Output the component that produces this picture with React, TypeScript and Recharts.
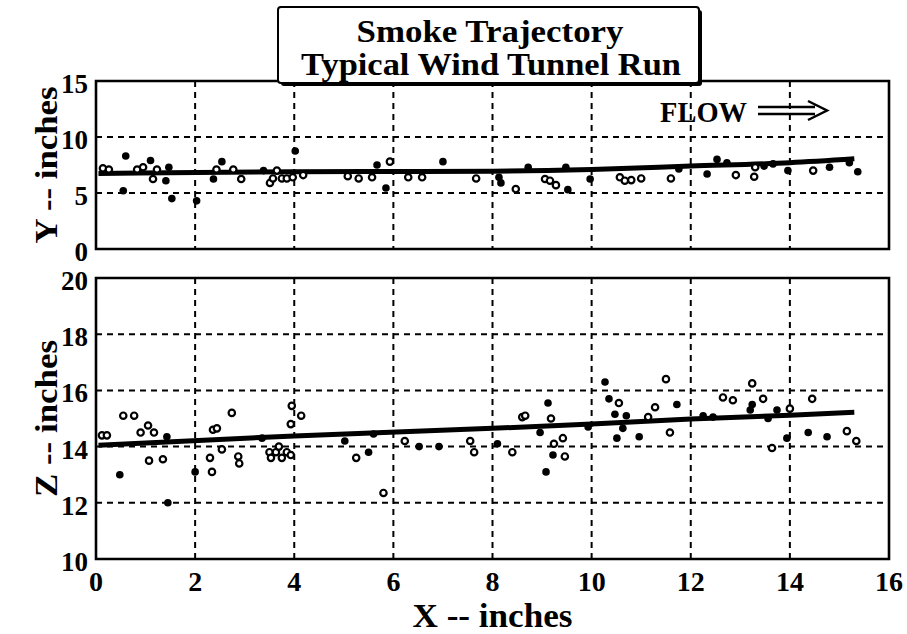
import React from 'react'
import {
  ComposedChart,
  Scatter,
  Line,
  XAxis,
  YAxis,
  CartesianGrid,
  ReferenceArea,
} from 'recharts'

// axes
const xTicks = [0, 2, 4, 6, 8, 10, 12, 14, 16]
const yTicks = [0, 5, 10, 15]
const zTicks = [10, 12, 14, 16, 18, 20]

// Y vs X -- solid dots / open circles
const yFilled = [
  { x: 0.6, y: 8.3 }, { x: 0.55, y: 5.2 }, { x: 1.1, y: 7.9 }, { x: 1.41, y: 6.1 },
  { x: 1.47, y: 7.3 }, { x: 1.53, y: 4.5 }, { x: 2.03, y: 4.3 }, { x: 2.37, y: 6.25 },
  { x: 2.54, y: 7.8 }, { x: 3.38, y: 7.0 }, { x: 4.02, y: 8.75 }, { x: 5.67, y: 7.5 },
  { x: 5.85, y: 5.45 }, { x: 7.0, y: 7.8 }, { x: 8.13, y: 6.4 }, { x: 8.17, y: 5.9 },
  { x: 8.72, y: 7.3 }, { x: 9.48, y: 7.3 }, { x: 9.52, y: 5.3 }, { x: 9.97, y: 6.25 },
  { x: 11.76, y: 7.15 }, { x: 12.33, y: 6.7 }, { x: 12.53, y: 8.0 }, { x: 12.73, y: 7.7 },
  { x: 13.48, y: 7.4 }, { x: 13.66, y: 7.6 }, { x: 13.96, y: 7.0 }, { x: 14.8, y: 7.3 },
  { x: 15.2, y: 7.7 }, { x: 15.37, y: 6.9 },
]
const yOpen = [
  { x: 0.14, y: 7.2 }, { x: 0.26, y: 7.1 }, { x: 0.83, y: 7.1 }, { x: 0.95, y: 7.3 },
  { x: 1.15, y: 6.25 }, { x: 1.23, y: 7.1 }, { x: 2.43, y: 7.1 }, { x: 2.77, y: 7.1 },
  { x: 2.93, y: 6.25 }, { x: 3.51, y: 5.9 }, { x: 3.57, y: 6.3 }, { x: 3.65, y: 7.0 },
  { x: 3.75, y: 6.3 }, { x: 3.85, y: 6.3 }, { x: 3.97, y: 6.4 }, { x: 4.18, y: 6.6 },
  { x: 5.08, y: 6.5 }, { x: 5.3, y: 6.3 }, { x: 5.57, y: 6.4 }, { x: 5.93, y: 7.8 },
  { x: 6.3, y: 6.4 }, { x: 6.58, y: 6.4 }, { x: 7.67, y: 6.3 }, { x: 8.47, y: 5.35 },
  { x: 9.06, y: 6.25 }, { x: 9.16, y: 6.1 }, { x: 9.28, y: 5.7 }, { x: 10.57, y: 6.4 },
  { x: 10.67, y: 6.1 }, { x: 10.8, y: 6.15 }, { x: 11.0, y: 6.3 }, { x: 11.6, y: 6.3 },
  { x: 12.91, y: 6.6 }, { x: 13.28, y: 6.45 }, { x: 13.3, y: 7.3 }, { x: 14.47, y: 7.0 },
]
const yFit = [
  { x: 0.05, y: 6.75 }, { x: 4, y: 6.9 }, { x: 8, y: 6.95 }, { x: 10, y: 7.1 },
  { x: 12, y: 7.4 }, { x: 14, y: 7.7 }, { x: 15.3, y: 8.05 },
]

// Z vs X
const zFilled = [
  { x: 0.48, z: 13.0 }, { x: 1.43, z: 14.35 }, { x: 1.45, z: 12.0 }, { x: 2.0, z: 13.1 },
  { x: 3.35, z: 14.3 }, { x: 5.02, z: 14.2 }, { x: 5.5, z: 13.8 }, { x: 5.6, z: 14.45 },
  { x: 6.52, z: 14.0 }, { x: 6.92, z: 14.0 }, { x: 8.1, z: 14.1 }, { x: 8.96, z: 14.5 },
  { x: 9.12, z: 15.55 }, { x: 9.22, z: 13.7 }, { x: 9.08, z: 13.1 }, { x: 9.93, z: 14.7 },
  { x: 10.27, z: 16.3 }, { x: 10.35, z: 15.7 }, { x: 10.47, z: 15.15 }, { x: 10.7, z: 15.1 },
  { x: 10.51, z: 14.3 }, { x: 10.63, z: 14.65 }, { x: 10.96, z: 14.35 }, { x: 11.72, z: 15.5 },
  { x: 12.25, z: 15.1 }, { x: 12.45, z: 15.05 }, { x: 13.24, z: 15.5 }, { x: 13.2, z: 15.3 },
  { x: 13.56, z: 15.0 }, { x: 13.74, z: 15.3 }, { x: 13.94, z: 14.3 }, { x: 14.37, z: 14.5 },
  { x: 14.75, z: 14.35 },
]
const zOpen = [
  { x: 0.12, z: 14.4 }, { x: 0.22, z: 14.4 }, { x: 0.55, z: 15.1 }, { x: 0.77, z: 15.1 },
  { x: 0.9, z: 14.5 }, { x: 1.05, z: 14.75 }, { x: 1.17, z: 14.5 }, { x: 1.07, z: 13.5 },
  { x: 1.35, z: 13.55 }, { x: 2.3, z: 13.6 }, { x: 2.34, z: 13.1 }, { x: 2.36, z: 14.6 },
  { x: 2.44, z: 14.65 }, { x: 2.54, z: 13.9 }, { x: 2.74, z: 15.2 }, { x: 2.87, z: 13.65 },
  { x: 2.89, z: 13.4 }, { x: 3.5, z: 13.8 }, { x: 3.53, z: 13.6 }, { x: 3.63, z: 13.8 },
  { x: 3.69, z: 14.0 }, { x: 3.75, z: 13.6 }, { x: 3.85, z: 13.8 }, { x: 3.93, z: 13.7 },
  { x: 3.95, z: 15.45 }, { x: 3.93, z: 14.8 }, { x: 4.14, z: 15.1 }, { x: 5.25, z: 13.6 },
  { x: 5.8, z: 12.35 }, { x: 6.23, z: 14.2 }, { x: 7.55, z: 14.2 }, { x: 7.63, z: 13.8 },
  { x: 8.4, z: 13.8 }, { x: 8.6, z: 15.05 }, { x: 8.66, z: 15.1 }, { x: 9.18, z: 15.0 },
  { x: 9.24, z: 14.1 }, { x: 9.46, z: 13.65 }, { x: 9.42, z: 14.3 }, { x: 10.55, z: 15.55 },
  { x: 11.14, z: 15.05 }, { x: 11.28, z: 15.4 }, { x: 11.5, z: 16.4 }, { x: 11.58, z: 14.5 },
  { x: 12.65, z: 15.75 }, { x: 12.85, z: 15.65 }, { x: 13.24, z: 16.25 }, { x: 13.46, z: 15.7 },
  { x: 13.64, z: 13.95 }, { x: 14.0, z: 15.35 }, { x: 14.45, z: 15.7 }, { x: 15.15, z: 14.55 },
  { x: 15.34, z: 14.2 },
]
const zFit = [
  { x: 0.05, z: 14.05 }, { x: 4, z: 14.38 }, { x: 8, z: 14.65 }, { x: 10, z: 14.8 },
  { x: 12, z: 14.98 }, { x: 14, z: 15.12 }, { x: 15.3, z: 15.22 },
]

const FONT = "'Liberation Serif', 'Times New Roman', serif"
const W = 907

const dot = (p: any) => <circle cx={p.cx} cy={p.cy} r={3.8} fill="#000" />
const ring = (p: any) => (
  <circle cx={p.cx} cy={p.cy} r={3.2} fill="#fff" stroke="#000" strokeWidth={2.2} />
)

function YTick(props: any) {
  const { x, y, payload } = props
  return (
    <text x={x} y={y + 12} textAnchor="end" fontFamily={FONT} fontSize={27} fontWeight="bold" fill="#000">
      {payload.value}
    </text>
  )
}

function XTick(props: any) {
  const { x, y, payload } = props
  return (
    <text x={x} y={y + 32} textAnchor="middle" fontFamily={FONT} fontSize={28} fontWeight="bold" fill="#000">
      {payload.value}
    </text>
  )
}

const NoTick = () => <g />

function sideLabel(text: string) {
  return (props: any) => {
    const vb = props.viewBox || {}
    const cy = vb.y + vb.height / 2
    const bx = 57
    return (
      <text
        x={bx}
        y={cy}
        transform={`rotate(-90, ${bx}, ${cy})`}
        textAnchor="middle"
        fontFamily={FONT}
        fontSize={32}
        fontWeight="bold"
        textLength={157}
        lengthAdjust="spacingAndGlyphs"
        fill="#000"
      >
        {text}
      </text>
    )
  }
}

function bottomLabel(props: any) {
  const vb = props.viewBox || {}
  return (
    <text
      x={vb.x + vb.width / 2}
      y={vb.y + vb.height - 7}
      textAnchor="middle"
      fontFamily={FONT}
      fontSize={33}
      fontWeight="bold"
      textLength={160}
      lengthAdjust="spacingAndGlyphs"
      fill="#000"
    >
      X -- inches
    </text>
  )
}

const grid = <CartesianGrid stroke="#000" strokeWidth={2} strokeDasharray="6 5" />

export default function App() {
  return (
    <div style={{ position: 'absolute', left: 0, top: 0, width: W, height: 634, background: '#fff' }}>
      <div style={{ position: 'absolute', left: 0, top: 0 }}>
        <ComposedChart width={W} height={272} margin={{ top: 81, right: 18, bottom: 23, left: 0 }}>
          {grid}
          <XAxis
            type="number"
            dataKey="x"
            domain={[0, 16]}
            ticks={xTicks}
            tick={<NoTick />}
            axisLine={false}
            tickLine={false}
            height={0}
          />
          <YAxis
            type="number"
            dataKey="y"
            domain={[0, 15]}
            ticks={yTicks}
            width={96}
            axisLine={false}
            tickLine={false}
            tickSize={0}
            tickMargin={8}
            tick={<YTick />}
            label={{ content: sideLabel('Y -- inches') }}
          />
          <ReferenceArea x1={0} x2={16} y1={0} y2={15} fill="none" stroke="#000" strokeWidth={2.6} />
          <Line data={yFit} dataKey="y" type="monotone" stroke="#000" strokeWidth={5} dot={false} isAnimationActive={false} />
          <Scatter data={yOpen} dataKey="y" shape={ring} isAnimationActive={false} />
          <Scatter data={yFilled} dataKey="y" shape={dot} isAnimationActive={false} />
        </ComposedChart>
      </div>
      <div style={{ position: 'absolute', left: 0, top: 262 }}>
        <ComposedChart width={W} height={372} margin={{ top: 16, right: 18, bottom: 0, left: 0 }}>
          {grid}
          <XAxis
            type="number"
            dataKey="x"
            domain={[0, 16]}
            ticks={xTicks}
            height={75}
            axisLine={false}
            tickLine={false}
            tickSize={0}
            tickMargin={0}
            tick={<XTick />}
            label={{ content: bottomLabel }}
          />
          <YAxis
            type="number"
            dataKey="z"
            domain={[10, 20]}
            ticks={zTicks}
            width={96}
            axisLine={false}
            tickLine={false}
            tickSize={0}
            tickMargin={8}
            tick={<YTick />}
            label={{ content: sideLabel('Z -- inches') }}
          />
          <ReferenceArea x1={0} x2={16} y1={10} y2={20} fill="none" stroke="#000" strokeWidth={2.6} />
          <Line data={zFit} dataKey="z" type="linear" stroke="#000" strokeWidth={5} dot={false} isAnimationActive={false} />
          <Scatter data={zOpen} dataKey="z" shape={ring} isAnimationActive={false} />
          <Scatter data={zFilled} dataKey="z" shape={dot} isAnimationActive={false} />
        </ComposedChart>
      </div>
      {/* title box and flow annotation */}
      <svg width={W} height={634} style={{ position: 'absolute', left: 0, top: 0, pointerEvents: 'none' }}>
        <rect x={281} y={10} width={421} height={76} rx={3} fill="#000" />
        <rect x={278} y={7} width={421} height={76} rx={3} fill="#fff" stroke="#000" strokeWidth={2} />
        <text x={490} y={42} textAnchor="middle" fontFamily={FONT} fontSize={31} fontWeight="bold" textLength={267} lengthAdjust="spacingAndGlyphs" fill="#000">
          Smoke Trajectory
        </text>
        <text x={491} y={75} textAnchor="middle" fontFamily={FONT} fontSize={31} fontWeight="bold" textLength={380} lengthAdjust="spacingAndGlyphs" fill="#000">
          Typical Wind Tunnel Run
        </text>
        <text x={660} y={122} fontFamily={FONT} fontSize={29} fontWeight="bold" textLength={87} lengthAdjust="spacingAndGlyphs" fill="#000">
          FLOW
        </text>
        <path d="M758 107 H815 M758 114 H815 M808 101 L827 110.5 L808 120" fill="none" stroke="#000" strokeWidth={2.5} />
      </svg>
    </div>
  )
}
